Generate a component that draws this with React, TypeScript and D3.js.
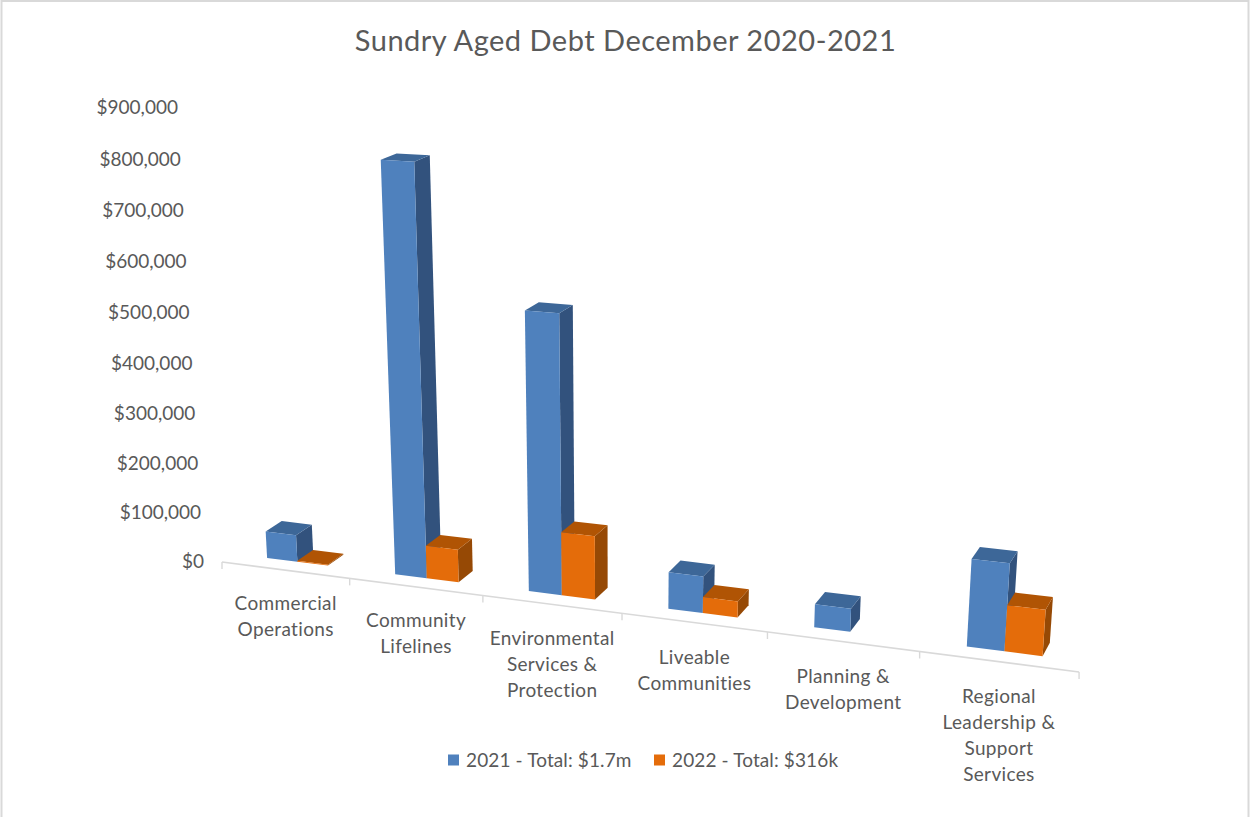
import React from "react";
import * as d3 from "d3";

// Chart content
const TITLE = "Sundry Aged Debt December 2020-2021";
const categories = [
  ["Commercial", "Operations"],
  ["Community", "Lifelines"],
  ["Environmental", "Services &", "Protection"],
  ["Liveable", "Communities"],
  ["Planning &", "Development"],
  ["Regional", "Leadership &", "Support", "Services"],
];
const seriesNames = ["2021 - Total: $1.7m", "2022 - Total: $316k"];
const values2021 = [56000, 813000, 551000, 73000, 45000, 167000];
const values2022 = [2000, 67000, 127000, 32000, 0, 88000];
const tickValues = [0, 100000, 200000, 300000, 400000, 500000, 600000, 700000, 800000, 900000];

// Face shades per series: front, top, right side
const palette = [
  { front: "#4f81bd", top: "#3d6798", side: "#32527d" },
  { front: "#e46c0a", top: "#b05404", side: "#964905" },
];

const WIDTH = 1250;
const HEIGHT = 817;
const FONT = "Lato, 'Open Sans', sans-serif";
const TEXT = "#595959";
const GRID = "#d9d9d9";

// Homogeneous camera for the 3-D column view:
// u = category axis, v = value axis in $100k, d = depth of the floor
function project(u: number, v: number, d: number): [number, number] {
  const w = 1 - 0.0208 * u - 0.00733 * v + 0.0125 * d;
  return [
    (222 + 120.4 * u - 4.54 * v + 19.6 * d) / w,
    (562 + 4.35 * u - 51.3 * v - 3.86 * d) / w,
  ];
}

const catKeys = categories.map((_, i) => String(i));
const uScale = d3.scaleBand<string>().domain(catKeys).range([0, 6]).paddingInner(0.52).paddingOuter(0.26);
const seriesScale = d3.scaleBand<string>().domain(["0", "1"]).range([0, uScale.bandwidth()]);
const vScale = d3.scaleLinear().domain([0, 900000]).range([0, 9]);
const depthFront = 0.76;
const depthBack = 1.76;

const poly = (pts: [number, number][]) => d3.line()(pts) + "Z";

// Value-axis labels sit on their own slightly flatter curve beside the axis
const labelY = (t: number) => {
  const v = vScale(t);
  return (561.5 - 50.9 * v) / (1 - 0.0036 * v);
};
const labelRight = d3.scaleLinear().domain([0, 900000]).range([204, 178]);
const fmt = d3.format("$,");

function Bar({ cat, s, value }: { cat: number; s: number; value: number }) {
  if (!value) return null;
  const u0 = uScale(String(cat))! + seriesScale(String(s))!;
  const u1 = u0 + seriesScale.bandwidth();
  const v = vScale(value);
  const c = palette[s];
  const P = project;
  return (
    <g>
      <path d={poly([P(u1, 0, depthFront), P(u1, 0, depthBack), P(u1, v, depthBack), P(u1, v, depthFront)])} fill={c.side} />
      <path d={poly([P(u0, v, depthFront), P(u1, v, depthFront), P(u1, v, depthBack), P(u0, v, depthBack)])} fill={c.top} />
      <path d={poly([P(u0, 0, depthFront), P(u1, 0, depthFront), P(u1, v, depthFront), P(u0, v, depthFront)])} fill={c.front} />
    </g>
  );
}

export default function App() {
  const axisStart = project(0, 0, 0);
  const axisEnd = project(6, 0, 0);
  const seriesValues = [values2021, values2022];
  return (
    <svg
      width={WIDTH}
      height={HEIGHT}
      viewBox={`0 0 ${WIDTH} ${HEIGHT}`}
      style={{ position: "fixed", left: 0, top: 0, background: "#fff", fontFamily: FONT }}
    >
      {/* chart frame */}
      <path d={`M1.5,${HEIGHT}V1H1248.5V${HEIGHT}`} fill="none" stroke={GRID} strokeWidth={2} />

      <text x={625.5} y={51} textAnchor="middle" fontSize={29} fill={TEXT} letterSpacing={0.5}>
        {TITLE}
      </text>

      {tickValues.map((t) => (
        <text key={t} x={labelRight(t)} y={labelY(t)} dy="0.35em" textAnchor="end" fontSize={19} fill={TEXT}>
          {fmt(t)}
        </text>
      ))}

      {/* category axis with tick marks between groups */}
      <line x1={axisStart[0]} y1={axisStart[1]} x2={axisEnd[0]} y2={axisEnd[1]} stroke={GRID} strokeWidth={1.6} />
      {d3.range(7).map((i) => {
        const [x, y] = project(i, 0, 0);
        return <line key={i} x1={x} y1={y} x2={x} y2={y + 7} stroke={GRID} strokeWidth={1.4} />;
      })}

      {categories.map((_, i) =>
        [0, 1].map((s) => <Bar key={`${i}-${s}`} cat={i} s={s} value={seriesValues[s][i]} />)
      )}

      {categories.map((lines, i) => {
        const [x, y] = project(i + 0.5, 0, 0);
        return (
          <text key={i} textAnchor="middle" fontSize={19} fill={TEXT} letterSpacing={0.35}>
            {lines.map((line, j) => (
              <tspan key={j} x={x + 0.5} y={y + 39.5 + Math.min(i * 0.8, 2) + j * 26}>
                {line}
              </tspan>
            ))}
          </text>
        );
      })}

      {/* legend */}
      {seriesNames.map((name, i) => {
        const x = i === 0 ? 448 : 654;
        return (
          <g key={name}>
            <rect x={x} y={754.5} width={11} height={11} fill={palette[i].front} />
            <text x={x + 18} y={760} dy="0.35em" fontSize={19} fill={TEXT} letterSpacing={0.12}>
              {name}
            </text>
          </g>
        );
      })}
    </svg>
  );
}
